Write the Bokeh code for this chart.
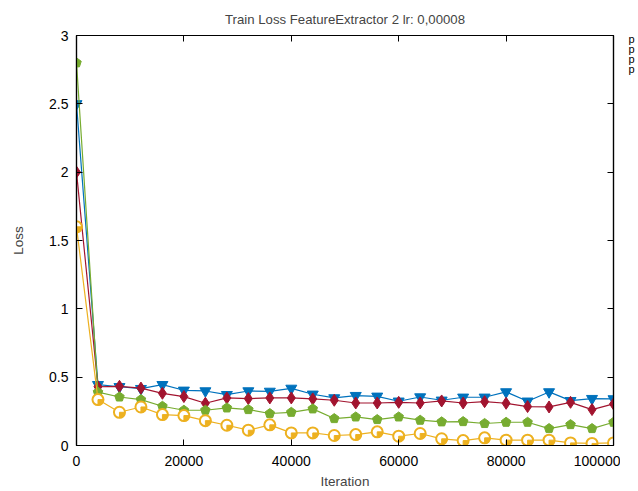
from bokeh.plotting import figure
from bokeh.models import Range1d, LinearAxis, FixedTicker
from bokeh.core.properties import value
from bokeh.layouts import row
from bokeh.embed import file_html
from bokeh.resources import INLINE

iterations = [0, 4000, 8000, 12000, 16000, 20000, 24000, 28000, 32000, 36000, 40000, 44000, 48000,
              52000, 56000, 60000, 64000, 68000, 72000, 76000, 80000, 84000, 88000, 92000, 96000, 100000]
blue = [2.5, 0.445, 0.43, 0.416, 0.445, 0.404, 0.399, 0.372, 0.399, 0.396, 0.418, 0.375, 0.348,
        0.365, 0.360, 0.324, 0.355, 0.331, 0.353, 0.353, 0.392, 0.324, 0.392, 0.328, 0.343, 0.341]
red = [2.0, 0.43, 0.433, 0.42, 0.382, 0.358, 0.309, 0.348, 0.343, 0.348, 0.348, 0.341, 0.331,
       0.311, 0.311, 0.316, 0.311, 0.326, 0.311, 0.321, 0.309, 0.285, 0.282, 0.316, 0.263, 0.304]
green = [2.8, 0.39, 0.355, 0.336, 0.287, 0.258, 0.258, 0.275, 0.263, 0.234, 0.243, 0.268, 0.197,
         0.209, 0.190, 0.209, 0.185, 0.173, 0.175, 0.161, 0.170, 0.170, 0.124, 0.153, 0.124, 0.170]
orange = [1.6, 0.336, 0.243, 0.282, 0.226, 0.219, 0.182, 0.148, 0.112, 0.151, 0.092, 0.092, 0.073,
          0.080, 0.100, 0.068, 0.088, 0.049, 0.036, 0.056, 0.039, 0.039, 0.039, 0.019, 0.015, 0.019]

x_ticks = [0, 20000, 40000, 60000, 80000, 100000]
x_tick_labels = ["0", "20000", "40000", "60000", "80000", "100000"]
y_ticks = [0, 0.5, 1, 1.5, 2, 2.5, 3]
y_tick_labels = ["0", "0.5", "1", "1.5", "2", "2.5", "3"]
legend_labels = ["p", "p", "p", "p"]
title_text = "Train Loss FeatureExtractor 2 lr: 0,00008"

FONT = "Liberation Sans"
FS = "13.2px"
TFS = "14px"

p = figure(width=620, height=491, output_backend="svg", toolbar_location=None,
           x_range=Range1d(0, 100000), y_range=Range1d(0, 3),
           x_axis_label="Iteration", y_axis_label="Loss",
           min_border_left=76, min_border_right=7, min_border_top=35, min_border_bottom=45)
p.title.text = title_text
p.title.align = "center"
p.title.text_font = FONT
p.title.text_font_size = FS
p.title.text_font_style = "normal"
p.title.standoff = 17
p.grid.visible = False
p.outline_line_color = "black"
p.outline_line_width = 1.2
p.background_fill_color = "white"
p.border_fill_color = "white"

def style_axis(ax, ticks, labels, show_labels=True):
    ax.ticker = FixedTicker(ticks=ticks)
    ax.major_label_overrides = {t: l for t, l in zip(ticks, labels)}
    ax.minor_tick_line_color = None
    ax.major_tick_in = 6
    ax.major_tick_out = 0
    ax.axis_line_color = "black"
    ax.axis_line_width = 1.2
    ax.major_tick_line_color = "black"
    ax.major_label_text_font = FONT
    if show_labels:
        ax.major_label_text_font_size = TFS
        ax.major_label_text_color = "black"
    else:
        ax.major_label_text_font_size = "1px"
        ax.major_label_text_color = None
    ax.axis_label_text_font = FONT
    ax.axis_label_text_font_size = "13.5px"
    ax.axis_label_text_font_style = "normal"

style_axis(p.xaxis[0], x_ticks, x_tick_labels)
style_axis(p.yaxis[0], y_ticks, y_tick_labels)
p.xaxis[0].major_label_standoff = 10
p.xaxis[0].axis_label_standoff = 5
p.yaxis[0].major_label_standoff = 8
p.yaxis[0].axis_label_standoff = 20

top_ax = LinearAxis(axis_label=None, major_label_standoff=0)
right_ax = LinearAxis(axis_label=None, major_label_standoff=0)
style_axis(top_ax, x_ticks, x_tick_labels, show_labels=False)
style_axis(right_ax, y_ticks, y_tick_labels, show_labels=False)
p.add_layout(top_ax, "above")
p.add_layout(right_ax, "right")

c_blue = "#0072BD"
c_red = "#A2142F"
c_green = "#77AC30"
c_orange = "#EDB120"

p.line(iterations, blue, line_color=c_blue, line_width=1.2)
p.scatter(iterations, blue, marker="inverted_triangle", size=11, fill_color=c_blue, line_color=c_blue)

p.line(iterations, red, line_color=c_red, line_width=1.2)
p.scatter(iterations, red, marker="diamond", size=12, fill_color=c_red, line_color=c_red)

p.line(iterations, green, line_color=c_green, line_width=1.2)
try:
    p.ngon(x=iterations, y=green, radius=5, radius_units="screen", n=5,
           angle=0, fill_color=c_green, line_color=c_green)
except Exception:
    p.scatter(iterations, green, marker="hex", size=10, fill_color=c_green, line_color=c_green)

p.line(iterations, orange, line_color=c_orange, line_width=1.2)
p.scatter(iterations, orange, marker="circle", size=11, fill_color="white",
          line_color=c_orange, line_width=2)
p.wedge(x=iterations, y=orange, radius=5.5, radius_units="screen",
        start_angle=-1.5708, end_angle=0, fill_color=c_orange, line_color=c_orange)

# key column to the right of the plot (labels only, as in the reference)
side = figure(width=18, height=491, output_backend="svg", toolbar_location=None,
              x_range=Range1d(0, 18), y_range=p.y_range,
              x_axis_type=None, y_axis_type=None,
              min_border=0, min_border_left=0, min_border_right=0,
              min_border_top=35, min_border_bottom=45)
side.outline_line_color = None
side.grid.visible = False
side.background_fill_color = "white"
side.border_fill_color = "white"
key_x = [8, 8, 8, 8]
key_y = [2.971, 2.898, 2.825, 2.752]
side.text(x=key_x, y=key_y, text=legend_labels, text_font=value(FONT), text_font_size="11px",
          text_baseline="middle", text_align="left", text_color="black")

layout = row(p, side, spacing=0)
open("out.html", "w").write(file_html(layout, INLINE))
